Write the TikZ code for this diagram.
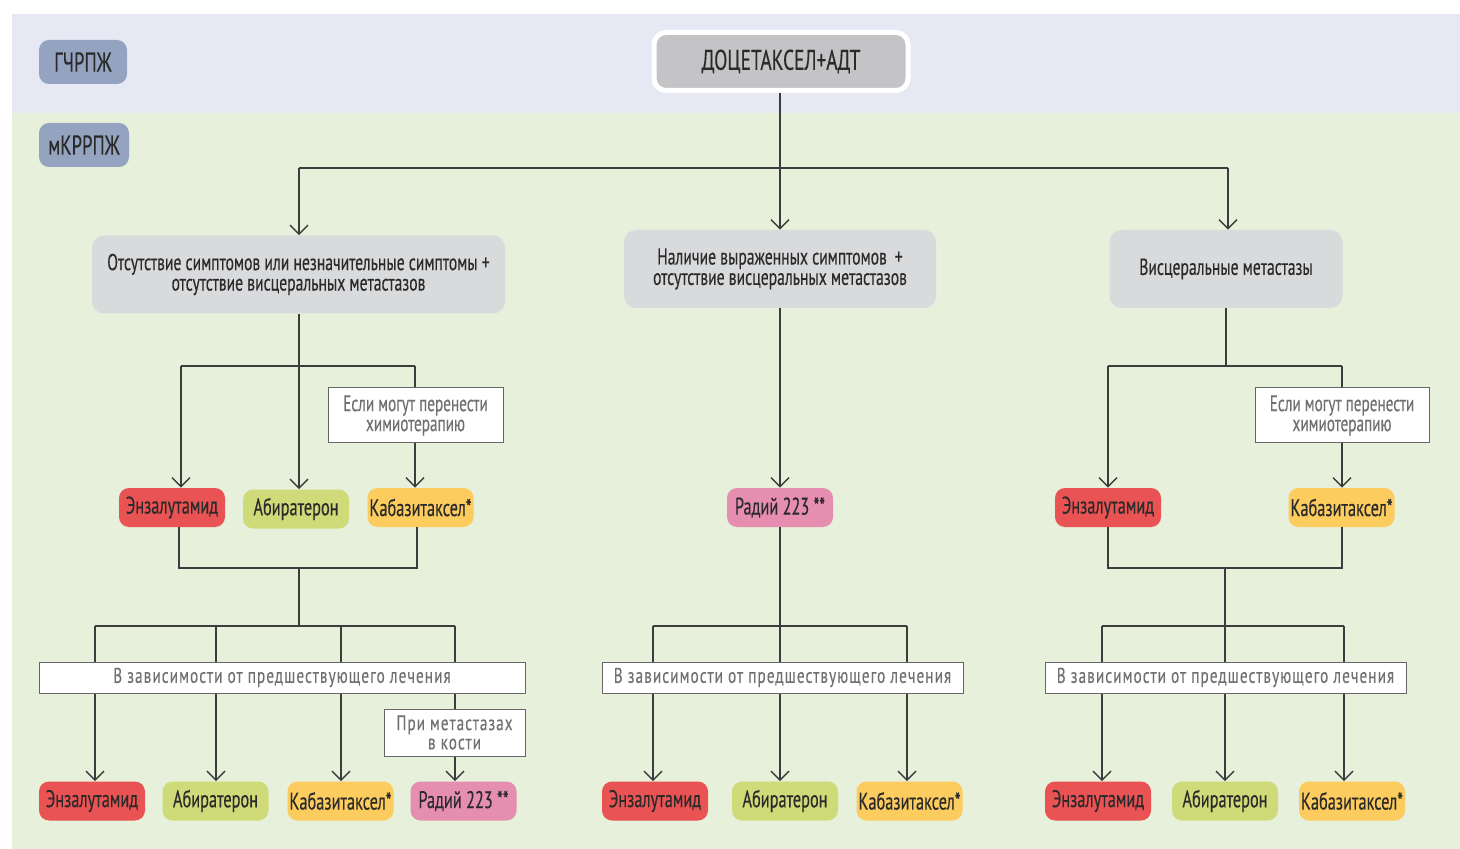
\documentclass[tikz,border=0pt]{standalone}
\usepackage{fontspec}
\setmainfont{PT Sans}[FakeStretch=0.68,FakeBold=0.3]
\newfontfamily\spaced{PT Sans}[FakeStretch=0.72,LetterSpace=5,FakeBold=0.2]
\usetikzlibrary{arrows.meta}
\definecolor{bandA}{HTML}{E6E9F3}
\definecolor{bandB}{HTML}{E6F0DA}
\definecolor{labblue}{HTML}{94A3C0}
\definecolor{boxgray}{HTML}{D9DADC}
\definecolor{topgray}{HTML}{C4C4C6}
\definecolor{cred}{HTML}{E95354}
\definecolor{cgreen}{HTML}{CFDB78}
\definecolor{corange}{HTML}{FDCC5F}
\definecolor{cpink}{HTML}{E68EB0}
\definecolor{txt}{HTML}{2A2A2A}
\definecolor{gtxt}{HTML}{707070}
\definecolor{lncol}{HTML}{3C3C3C}
\tikzset{
  lab/.style={fill=labblue,rounded corners=5pt,minimum height=22pt,inner sep=0pt,text=txt,font=\fontsize{13.7}{13.7}\selectfont},
  topbox/.style={fill=topgray,draw=white,line width=2.5pt,rounded corners=6pt,minimum width=127pt,minimum height=29pt,inner sep=0pt,text=txt,font=\fontsize{14.2}{14.2}\selectfont},
  cond/.style={fill=boxgray,rounded corners=6pt,minimum height=39pt,inner sep=0pt,align=center,text=txt,font=\fontsize{11.5}{10.2}\selectfont},
  note/.style={fill=white,draw=gray!80!black,line width=0.5pt,inner sep=0pt,align=center,text=gtxt,font=\fontsize{11.2}{10}\selectfont},
  dep/.style={fill=white,draw=gray!80!black,line width=0.5pt,inner sep=0pt,minimum height=15.5pt,text=gtxt,font=\spaced\fontsize{10.6}{10.6}\selectfont},
  drug/.style={rounded corners=5pt,minimum width=53pt,minimum height=19.5pt,inner sep=0pt,text=txt,font=\fontsize{12}{12}\selectfont},
  enz/.style={drug,fill=cred},
  abi/.style={drug,fill=cgreen},
  kab/.style={drug,fill=corange},
  rad/.style={drug,fill=cpink},
  ln/.style={draw=lncol,line width=0.7pt},
  arr/.style={ln,-{Straight Barb[length=4.5pt,width=9pt,line width=0.7pt]}}
}
\begin{document}
\begin{tikzpicture}[x=0.5pt,y=-0.5pt]
\useasboundingbox (0,0) rectangle (1460,849);
\fill[bandA] (12,14) rectangle (1460,113);
\fill[bandB] (12,113) rectangle (1460,849);

% labels
\node[lab,minimum width=44pt] (g1) at (83,62) {ГЧРПЖ};
\node[lab,minimum width=45pt] (g2) at (84,145) {мКРРПЖ};

% top
\node[topbox] (top) at (781,61.5) {ДОЦЕТАКСЕЛ+АДТ};

% condition boxes
\node[cond,minimum width=206.5pt] (b1) at (298.5,274.5) {Отсутствие симптомов или незначительные симптомы +\\отсутствие висцеральных метастазов};
\node[cond,minimum width=156pt] (b2) at (780,269) {Наличие выраженных симптомов \,+\\отсутствие висцеральных метастазов};
\node[cond,minimum width=116.5pt] (b3) at (1226,269) {Висцеральные метастазы};

% notes
\node[note,minimum width=87.5pt,minimum height=27.5pt] (c1) at (415.5,415.5) {Если могут перенести\\химиотерапию};
\node[note,minimum width=87pt,minimum height=27.5pt] (c2) at (1342,415.5) {Если могут перенести\\химиотерапию};

% middle row drugs
\node[enz] (e1) at (172,507.5) {Энзалутамид};
\node[abi] (a1) at (296,509) {Абиратерон};
\node[kab] (k1) at (420.5,507.5) {Кабазитаксел*};
\node[rad] (r1) at (780,507.5) {Радий 223 **};
\node[enz] (e2) at (1108,507.5) {Энзалутамид};
\node[kab] (k2) at (1341.5,507.5) {Кабазитаксел*};

% dependency boxes
\node[dep,minimum width=243pt] (d1) at (282,677.5) {В зависимости от предшествующего лечения};
\node[dep,minimum width=180.5pt] (d2) at (782.5,677.5) {В зависимости от предшествующего лечения};
\node[dep,minimum width=180.5pt] (d3) at (1225.5,677.5) {В зависимости от предшествующего лечения};
\node[note,minimum width=70.5pt,minimum height=23.5pt,font=\spaced\fontsize{10.5}{9.6}\selectfont] (m1) at (454.5,732.5) {При метастазах\\в кости};

% bottom row
\node[enz] (E1) at (92,801) {Энзалутамид};
\node[abi] (A1) at (215.5,801) {Абиратерон};
\node[kab] (K1) at (340.5,801) {Кабазитаксел*};
\node[rad] (R1) at (463.5,801) {Радий 223 **};
\node[enz] (E2) at (655,801) {Энзалутамид};
\node[abi] (A2) at (785,801) {Абиратерон};
\node[kab] (K2) at (909.5,801) {Кабазитаксел*};
\node[enz] (E3) at (1098,801) {Энзалутамид};
\node[abi] (A3) at (1225,801) {Абиратерон};
\node[kab] (K3) at (1352,801) {Кабазитаксел*};

% top connectors
\coordinate (j0) at (780,168);
\draw[ln] (top.south -| j0) -- (j0);
\draw[ln] (299,168) -- (1228,168);
\draw[arr] (299,168) -- (299,0 |- b1.north);
\draw[arr] (j0) -- (b2.north);
\draw[arr] (1228,168) -- (1228,0 |- b3.north);

% left branch
\draw[arr] (299,0 |- b1.south) -- (299,0 |- a1.north);
\draw[ln] (181,366) -- (415,366);
\draw[arr] (181,366) -- (181,0 |- e1.north);
\draw[ln] (415,366) -- (415,0 |- c1.north);
\draw[arr] (415,0 |- c1.south) -- (415,0 |- k1.north);
\draw[ln] (179,0 |- e1.south) -- (179,568) -- (417,568) -- (417,0 |- k1.south);
\draw[ln] (299,568) -- (299,626);
\draw[ln] (95,626) -- (455,626);
\foreach \x in {95,216,341,455} \draw[ln] (\x,626) -- (\x,0 |- d1.north);
\draw[arr] (95,0 |- d1.south) -- (95,0 |- E1.north);
\draw[arr] (216,0 |- d1.south) -- (216,0 |- A1.north);
\draw[arr] (341,0 |- d1.south) -- (341,0 |- K1.north);
\draw[ln] (455,0 |- d1.south) -- (455,0 |- m1.north);
\draw[arr] (455,0 |- m1.south) -- (455,0 |- R1.north);

% middle branch
\draw[arr] (b2.south) -- (r1.north);
\draw[ln] (r1.south) -- (780,626);
\draw[ln] (653,626) -- (907,626);
\foreach \x in {653,780,907} \draw[ln] (\x,626) -- (\x,0 |- d2.north);
\draw[arr] (653,0 |- d2.south) -- (653,0 |- E2.north);
\draw[arr] (780,0 |- d2.south) -- (780,0 |- A2.north);
\draw[arr] (907,0 |- d2.south) -- (907,0 |- K2.north);

% right branch
\draw[ln] (b3.south) -- (1226,366);
\draw[ln] (1108,366) -- (1342,366);
\draw[arr] (1108,366) -- (1108,0 |- e2.north);
\draw[ln] (1342,366) -- (1342,0 |- c2.north);
\draw[arr] (1342,0 |- c2.south) -- (1342,0 |- k2.north);
\draw[ln] (1108,0 |- e2.south) -- (1108,568) -- (1342,568) -- (1342,0 |- k2.south);
\draw[ln] (1225,568) -- (1225,626);
\draw[ln] (1102,626) -- (1344,626);
\foreach \x in {1102,1225,1344} \draw[ln] (\x,626) -- (\x,0 |- d3.north);
\draw[arr] (1102,0 |- d3.south) -- (1102,0 |- E3.north);
\draw[arr] (1225,0 |- d3.south) -- (1225,0 |- A3.north);
\draw[arr] (1344,0 |- d3.south) -- (1344,0 |- K3.north);
\end{tikzpicture}
\end{document}
